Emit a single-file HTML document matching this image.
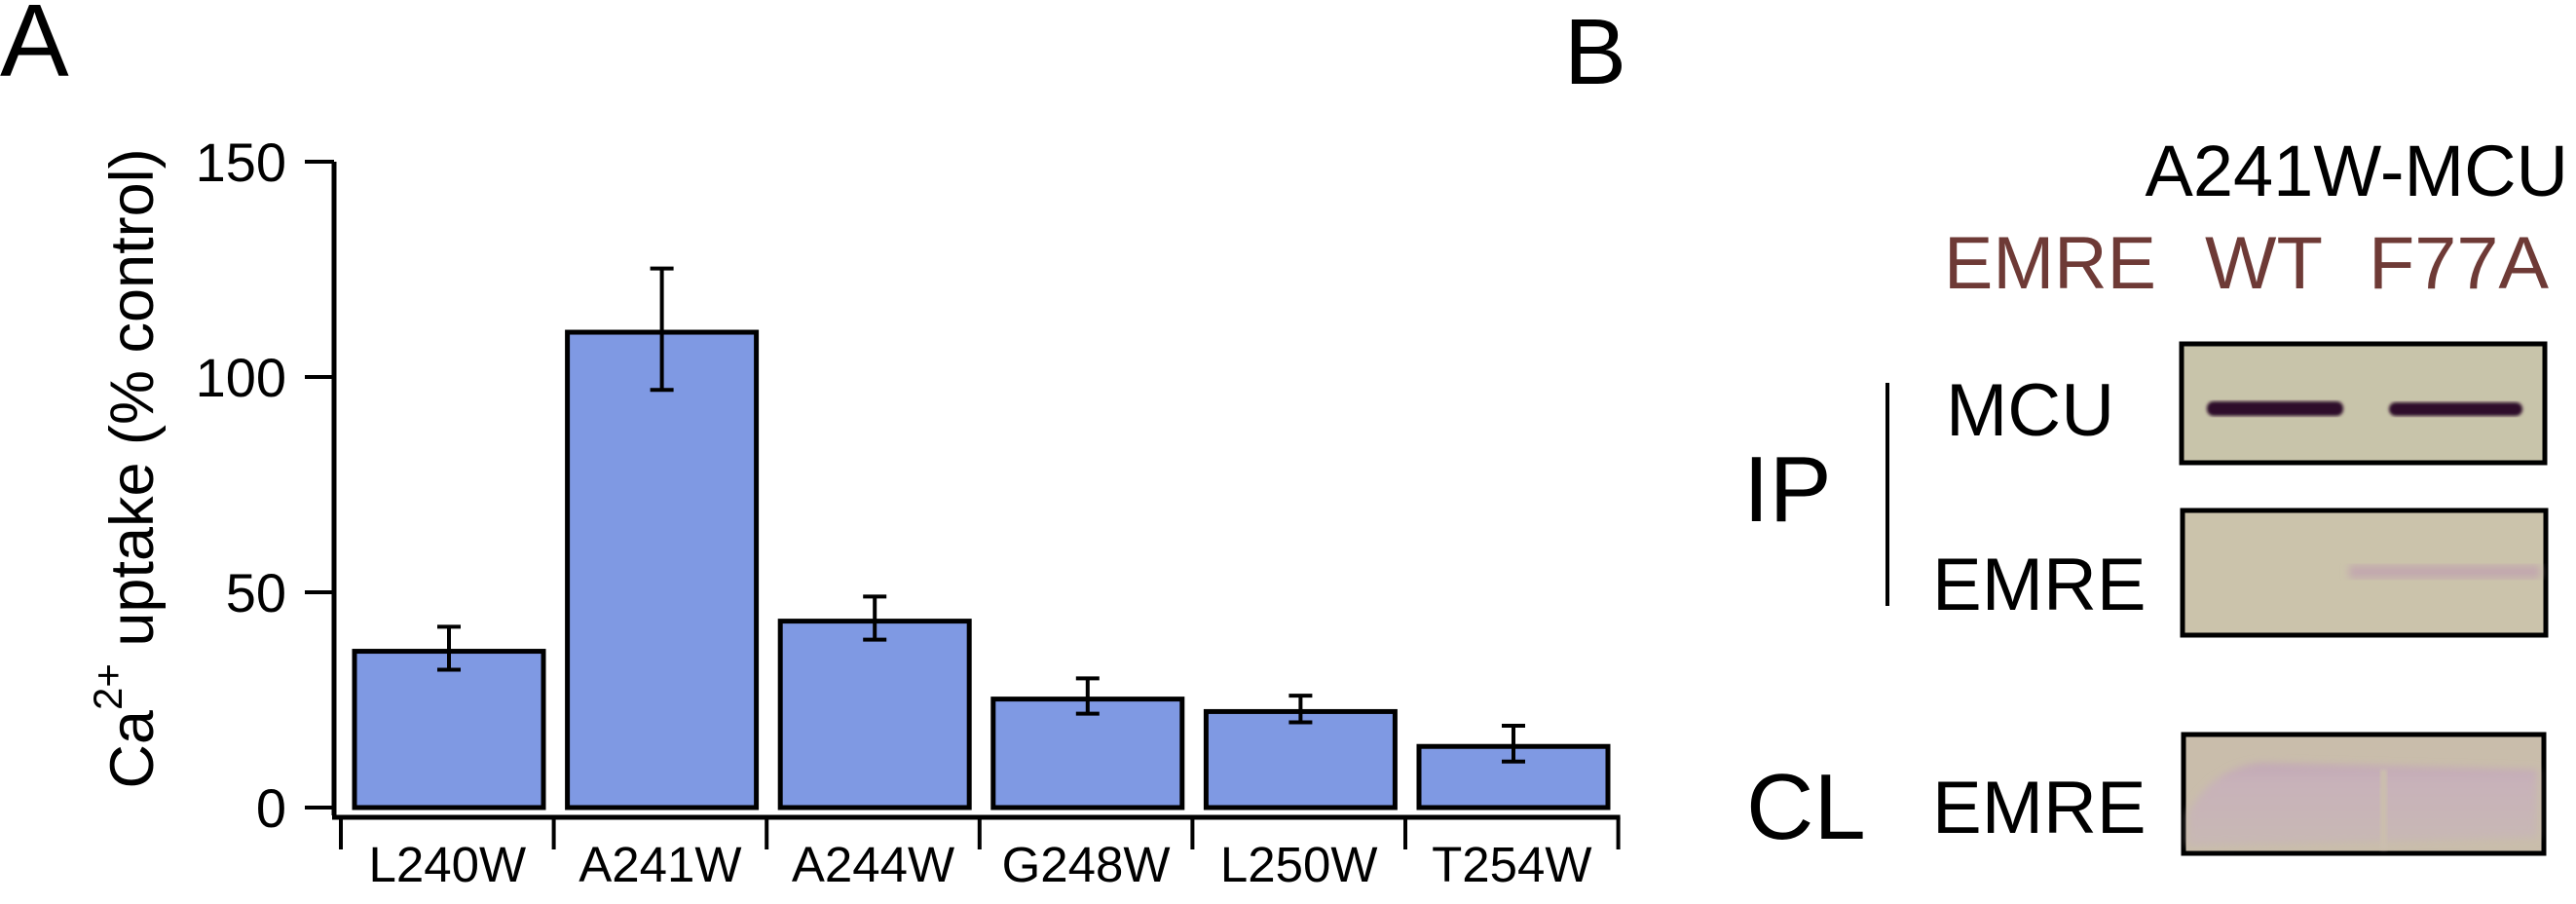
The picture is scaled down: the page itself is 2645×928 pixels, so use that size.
<!DOCTYPE html>
<html><head><meta charset="utf-8"><style>
html,body{margin:0;padding:0;background:#fff;}
svg{display:block;font-family:"Liberation Sans",Arial,sans-serif;}
</style></head><body>
<svg id="fig" width="2645" height="928" viewBox="0 0 2645 928" xmlns="http://www.w3.org/2000/svg">
<defs>
<linearGradient id="cl" x1="0" y1="0" x2="0" y2="1">
<stop offset="0" stop-color="#c2a8b6"/><stop offset="0.25" stop-color="#c8b2b9"/><stop offset="1" stop-color="#c8b8b4"/>
</linearGradient>
<filter id="blur4"><feGaussianBlur stdDeviation="4"/></filter>
<filter id="blur2"><feGaussianBlur stdDeviation="1.6"/></filter>
</defs>
<text x="0" y="78" font-size="106">A</text>
<text x="1606" y="86" font-size="96">B</text>
<g id="chart"></g>
<text transform="translate(157,481) rotate(-90)" text-anchor="middle" font-size="63">Ca<tspan dy="-32" font-size="42">2+</tspan><tspan dy="32"> uptake (% control)</tspan></text>

<!-- Panel B -->
<text x="2637" y="201" text-anchor="end" font-size="74">A241W-MCU</text>
<text x="1996" y="296" font-size="76" fill="#6e3a36" textLength="218" lengthAdjust="spacingAndGlyphs">EMRE</text>
<text x="2264" y="296" font-size="76" fill="#6e3a36" textLength="121" lengthAdjust="spacingAndGlyphs">WT</text>
<text x="2432" y="296" font-size="76" fill="#6e3a36" textLength="185" lengthAdjust="spacingAndGlyphs">F77A</text>
<text x="1790" y="535" font-size="96">IP</text>
<rect x="1936" y="393" width="4" height="229" fill="#000"/>
<text x="1998" y="447" font-size="76">MCU</text>
<text x="1984" y="626" font-size="76">EMRE</text>
<text x="1793" y="861" font-size="96">CL</text>
<text x="1984" y="855" font-size="76">EMRE</text>

<g>
<rect x="2240" y="353" width="373" height="122" fill="#c8c4aa" stroke="#000" stroke-width="5"/>
<rect x="2266" y="412" width="140" height="15" rx="7" fill="#2f0f2a" filter="url(#blur2)"/>
<rect x="2453" y="413" width="137" height="14" rx="7" fill="#2f0f2a" filter="url(#blur2)"/>
</g>
<g>
<rect x="2241" y="524" width="373" height="128" fill="#cbc3ab" stroke="#000" stroke-width="5"/>
<rect x="2412" y="580" width="196" height="14" fill="#c2a9ae" filter="url(#blur4)"/>
</g>
<g>
<rect x="2242" y="754" width="370" height="122" fill="#c9bdab" stroke="#000" stroke-width="5"/>
<path d="M2247 835 Q2270 790 2320 783 L2605 790 L2605 860 L2247 868 Z" fill="url(#cl)" filter="url(#blur4)"/>
<rect x="2444" y="790" width="7" height="82" fill="#cbbeae" filter="url(#blur2)"/>
</g>
</svg>
<script>
const categories = ["L240W","A241W","A244W","G248W","L250W","T254W"];
const values = [36.3, 110.4, 43.3, 25.2, 22.3, 14.2];
const errHigh = [42, 125.2, 49, 30, 26, 19];
const errLow = [32, 97, 39, 21.8, 19.8, 10.7];
const yTicks = [0, 50, 100, 150];

const NS = "http://www.w3.org/2000/svg";
const g = document.getElementById("chart");
const axX = 343, y0 = 829, yTop = 166, yMax = 150;
const xStart = 350, step = 218.6, barW = 194, barOff = 14;
const yScale = v => y0 - (v / yMax) * (y0 - yTop);
const xScale = i => xStart + i * step;
function mk(tag, attrs){const e=document.createElementNS(NS,tag);for(const k in attrs)e.setAttribute(k,attrs[k]);g.appendChild(e);return e;}

const yAxis = mk("line",{x1:axX,y1:yTop,x2:axX,y2:837,stroke:"#000","stroke-width":5});


yTicks.forEach(t=>{
  const y=yScale(t);
  const tk=mk("line",{x1:313,y1:y,x2:axX,y2:y,stroke:"#000","stroke-width":4});
  
  
  const lb=mk("text",{x:294,y:y+20,"text-anchor":"end","font-size":56});
  lb.textContent=t;
  
  
});
const xAxis = mk("line",{x1:axX-2,y1:839,x2:xScale(categories.length)+2,y2:839,stroke:"#000","stroke-width":5});


for(let i=0;i<=categories.length;i++){
  const tk=mk("line",{x1:xScale(i),y1:839,x2:xScale(i),y2:872,stroke:"#000","stroke-width":4});
  
  
}
categories.forEach((c,i)=>{
  const x=xScale(i)+barOff, yv=yScale(values[i]);
  const b=mk("rect",{x:x,y:yv,width:barW,height:y0-yv,fill:"#7f99e3",stroke:"#000","stroke-width":5});
  
  
  const cx=x+barW/2, yh=yScale(errHigh[i]), yl=yScale(errLow[i]);
  const eb=mk("path",{d:`M${cx} ${yh}V${yl}M${cx-12} ${yh}H${cx+12}M${cx-12} ${yl}H${cx+12}`,stroke:"#000","stroke-width":4,fill:"none"});
  
  
  const lb=mk("text",{x:xScale(i)+step/2,y:905,"text-anchor":"middle","font-size":51});
  lb.textContent=c;
  
  
});
</script>
</body></html>
